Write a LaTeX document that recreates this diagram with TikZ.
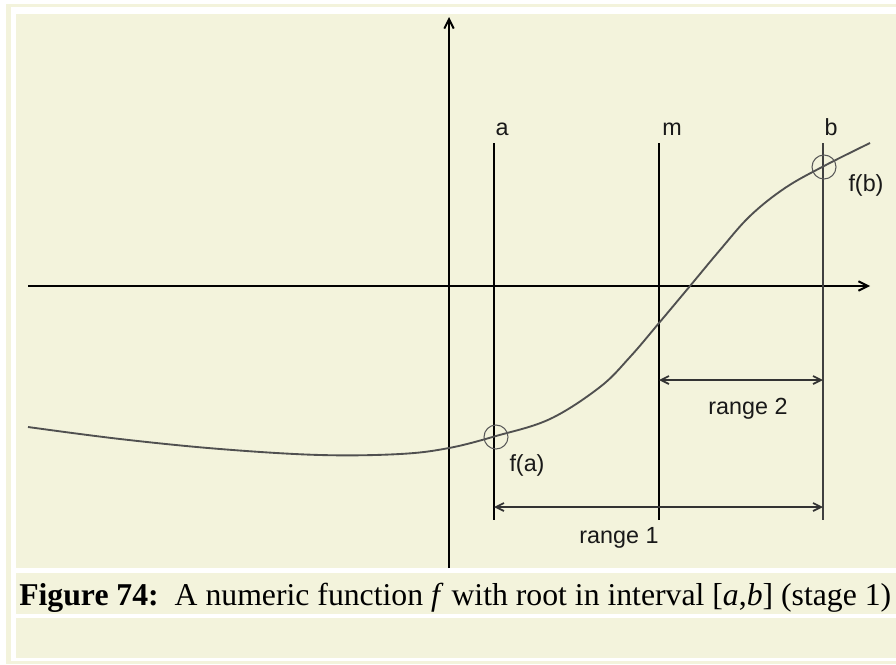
\documentclass[tikz,border=0pt]{standalone}
\usepackage{fontspec}
\setmainfont{Liberation Serif}
\newfontfamily\lblfont{Liberation Sans}
\usetikzlibrary{arrows.meta}
\definecolor{cream}{RGB}{243,243,220}
\definecolor{curvegray}{RGB}{80,80,80}
\tikzset{
  axisline/.style={line width=1.5pt, black},
  vline/.style={line width=1.5pt, black},
  curveline/.style={line width=1.4pt, curvegray},
  rangeline/.style={line width=1.3pt, black!80, {Straight Barb[length=6pt,width=6pt]}-{Straight Barb[length=6pt,width=6pt]}},
  lbl/.style={font=\lblfont\fontsize{17.5}{20}\selectfont, text=black!90, inner sep=0pt, anchor=base},
  ptcircle/.style={circle, draw=black!65, line width=0.8pt, minimum size=18pt, inner sep=0pt},
  captext/.style={font=\fontsize{23.8}{28}\selectfont, inner sep=0pt, anchor=base west}
}
\begin{document}
\begin{tikzpicture}[x=0.75pt,y=-0.75pt]
\useasboundingbox (0,0) rectangle (896,664);
% frame and panels
\fill[white] (0,0) rectangle (896,664);
\fill[cream] (6,4) rectangle (896,664);
\fill[white] (11,7) rectangle (896,661);
\fill[cream] (16,14) rectangle (896,568);
\fill[cream] (16,573) rectangle (896,614);
\fill[cream] (16,618) rectangle (896,658);
% coordinates
\coordinate (ybot) at (449,568);
\coordinate (ytop) at (449,17);
\coordinate (xl) at (28,286);
\coordinate (xr) at (870,286);
\coordinate (at) at (494,143);
\coordinate (ab) at (494,520);
\coordinate (mt) at (659,143);
\coordinate (mb) at (659,520);
\coordinate (bt) at (823,143);
\coordinate (bb) at (823,520);
\coordinate (r2l) at (659,380);
\coordinate (r2r) at (823,380);
\coordinate (r1l) at (494,507);
\coordinate (r1r) at (823,507);
% axes
\draw[axisline, -{Straight Barb[length=7pt,width=7pt]}] (xl) -- (xr);
\draw[axisline, -{Straight Barb[length=7pt,width=7pt]}] (ybot) -- (ytop);
% vertical lines
\draw[vline] (at) -- (ab);
\draw[vline] (mt) -- (mb);
\draw[vline, black!75] (bt) -- (bb);
% curve
\draw[curveline] plot[smooth, tension=0.6] coordinates {(28,427) (120,439) (220,449) (320,455) (400,454) (449,448) (496,436) (550,419) (600,387) (630,357) (659,323) (690,286) (720,250) (750,216) (785,188) (824,166) (870,143)};
% point circles
\node[ptcircle] (fa) at (496,437) {};
\node[ptcircle] (fb) at (824,167) {};
% range arrows
\draw[rangeline] (r2l) -- (r2r);
\draw[rangeline] (r1l) -- (r1r);
% labels
\node[lbl] (la) at (502,135) {a};
\node[lbl] (lm) at (672,135) {m};
\node[lbl] (lb) at (831,135) {b};
\node[lbl] (lfb) at (866,191) {f(b)};
\node[lbl] (lfa) at (527,471) {f(a)};
\node[lbl] (lr2) at (748,414) {range 2};
\node[lbl] (lr1) at (619,543) {range 1};
% caption
\node[captext] (cap) at (19,605) {\textbf{Figure 74:}\ \ A numeric function \textit{f} with root in interval [\textit{a},\textit{b}] (stage 1)};
\end{tikzpicture}
\end{document}
